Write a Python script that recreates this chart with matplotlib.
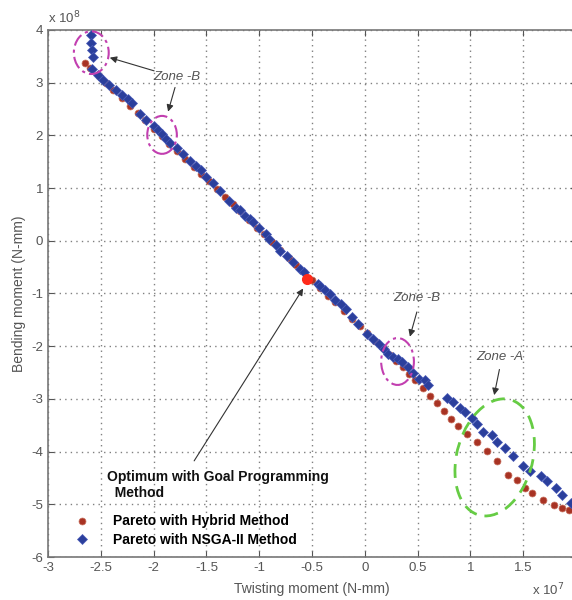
import matplotlib
matplotlib.use('Agg')
import matplotlib.pyplot as plt
from matplotlib.patches import Ellipse

plt.rcParams['font.family'] = ['Liberation Sans', 'DejaVu Sans']
plt.rcParams['axes.unicode_minus'] = False

# Pareto front with hybrid method (x in 1e7 N-mm, y in 1e8 N-mm)
hybrid_x = [-2.65, -2.6, -2.52, -2.45, -2.38, -2.3, -2.22, -2.15, -2.08, -2.0,
            -1.92, -1.85, -1.78, -1.7, -1.62, -1.55, -1.48, -1.4, -1.32, -1.25,
            -1.18, -1.1, -1.02, -0.95, -0.88, -0.8, -0.72, -0.65, -0.58, -0.5,
            -0.42, -0.35, -0.28, -0.2, -0.12, -0.05, 0.02, 0.1, 0.17, 0.24,
            0.3, 0.36, 0.42, 0.48, 0.55, 0.62, 0.68, 0.75, 0.82, 0.886,
            0.972, 1.066, 1.161, 1.256, 1.36, 1.445, 1.521, 1.588, 1.692, 1.787,
            1.872, 1.929]
hybrid_y = [3.38, 3.28, 3.13, 2.99, 2.86, 2.71, 2.55, 2.42, 2.29, 2.13,
            1.98, 1.84, 1.71, 1.56, 1.40, 1.27, 1.13, 0.98, 0.83, 0.69,
            0.56, 0.40, 0.25, 0.12, -0.02, -0.17, -0.32, -0.46, -0.59, -0.75,
            -0.90, -1.04, -1.17, -1.33, -1.48, -1.62, -1.75, -1.91, -2.04, -2.17,
            -2.29, -2.40, -2.52, -2.65, -2.80, -2.95, -3.08, -3.23, -3.38, -3.52,
            -3.66, -3.81, -3.98, -4.17, -4.45, -4.54, -4.69, -4.79, -4.92, -5.02,
            -5.07, -5.11]

# Pareto front with NSGA-II
nsga_x = [-2.59, -2.59, -2.58, -2.57, -2.58, -2.53, -2.48, -2.42, -2.36, -2.3,
          -2.24, -2.2, -2.13, -2.07, -2.0, -1.96, -1.92, -1.88, -1.84, -1.78,
          -1.72, -1.66, -1.6, -1.55, -1.5, -1.44, -1.37, -1.29, -1.22, -1.18,
          -1.13, -1.09, -1.06, -1.0, -0.94, -0.91, -0.84, -0.8, -0.74, -0.68,
          -0.61, -0.58, -0.44, -0.42, -0.38, -0.33, -0.28, -0.23, -0.18, -0.12,
          -0.06, 0.02, 0.08, 0.13, 0.18, 0.22, 0.27, 0.31, 0.35, 0.41,
          0.46, 0.51, 0.57, 0.6, 0.78, 0.839, 0.905, 0.953, 1.019, 1.066,
          1.123, 1.209, 1.256, 1.332, 1.408, 1.502, 1.569, 1.664, 1.73, 1.806,
          1.872, 1.948]
nsga_y = [3.91, 3.76, 3.62, 3.49, 3.26, 3.15, 3.06, 2.96, 2.86, 2.76,
          2.70, 2.62, 2.40, 2.30, 2.18, 2.10, 2.02, 1.94, 1.86, 1.76,
          1.64, 1.52, 1.42, 1.34, 1.22, 1.10, 0.94, 0.75, 0.62, 0.58,
          0.47, 0.41, 0.36, 0.24, 0.12, 0.03, -0.08, -0.20, -0.28, -0.40,
          -0.54, -0.60, -0.82, -0.86, -0.94, -1.01, -1.12, -1.20, -1.30, -1.44,
          -1.57, -1.77, -1.86, -1.95, -2.06, -2.14, -2.20, -2.24, -2.30, -2.39,
          -2.50, -2.62, -2.65, -2.74, -2.98, -3.05, -3.18, -3.24, -3.37, -3.47,
          -3.62, -3.69, -3.81, -3.94, -4.09, -4.28, -4.37, -4.47, -4.56, -4.70,
          -4.83, -4.98]

optimum_x = [-0.55]
optimum_y = [-0.73]

x_ticks = [-3, -2.5, -2, -1.5, -1, -0.5, 0, 0.5, 1, 1.5, 2]
x_ticklabels = ['-3', '-2.5', '-2', '-1.5', '-1', '-0.5', '0', '0.5', '1', '1.5', '']

fig = plt.figure(figsize=(5.72, 6.0), dpi=100)
ax = fig.add_axes([48 / 572, 43 / 600, 528 / 572, 527 / 600])

ax.plot(hybrid_x, hybrid_y, 'o', color='#a83324', markeredgecolor='#c8705e',
        markeredgewidth=0.5, markersize=5, label='Pareto with Hybrid Method', zorder=3)
ax.plot(nsga_x, nsga_y, 'D', color='#2b3f9c', markeredgecolor='#4a5cb8',
        markeredgewidth=0.5, markersize=5.5, label='Pareto with NSGA-II Method', zorder=4)
ax.plot(optimum_x, optimum_y, 'o', color='#ff2a1a', markersize=7, zorder=5)

ax.set_xlim(-3, 2)
ax.set_ylim(-6, 4)
ax.set_xticks(x_ticks)
ax.set_xticklabels(x_ticklabels)
ax.set_yticks(range(-6, 5))
ax.grid(True, linestyle=(0, (1, 3)), color='#808080', linewidth=1.0)
ax.tick_params(direction='in', length=4, labelsize=9.5, colors='#555555',
               top=True, right=True)
for s in ax.spines.values():
    s.set_color('#777777')
    s.set_linewidth(1.2)

ax.set_xlabel('Twisting moment (N-mm)', fontsize=10, color='#555555', labelpad=6)
ax.set_ylabel('Bending moment (N-mm)', fontsize=10, color='#555555', labelpad=4)

fig.text(48 / 572, 1 - 18 / 600, r'x 10$^8$', fontsize=9.5, color='#555555',
         ha='left', va='center')
fig.text(532 / 572, 1 - 590 / 600, r'x 10$^7$', fontsize=9.5, color='#555555',
         ha='left', va='center')

# zone ellipses
magenta = '#c23fb0'
for cx, cy, w, h in [(-2.59, 3.57, 0.33, 0.81), (-1.92, 2.01, 0.28, 0.72),
                     (0.31, -2.29, 0.31, 0.89)]:
    ax.add_patch(Ellipse((cx, cy), w, h, fill=False, edgecolor=magenta,
                         linewidth=1.5, linestyle=(0, (6, 2, 1.5, 2)), zorder=6))
ax.add_patch(Ellipse((1.23, -4.11), 0.73, 2.23, angle=-5, fill=False,
                     edgecolor='#66cc44', linewidth=2, linestyle=(0, (5, 3)), zorder=6))

arrow = dict(arrowstyle='-|>', color='#333333', lw=0.8, mutation_scale=10)
zone_kw = dict(fontsize=9.5, style='italic', color='#555555', ha='center', va='center')
ax.text(-1.78, 3.11, 'Zone -B', **zone_kw)
ax.annotate('', xy=(-2.44, 3.49), xytext=(-1.97, 3.21), arrowprops=arrow)
ax.annotate('', xy=(-1.87, 2.40), xytext=(-1.79, 2.96), arrowprops=arrow)
ax.text(0.49, -1.09, 'Zone -B', **zone_kw)
ax.annotate('', xy=(0.42, -1.87), xytext=(0.50, -1.30), arrowprops=arrow)
ax.text(1.28, -2.20, 'Zone -A', **zone_kw)
ax.annotate('', xy=(1.22, -2.98), xytext=(1.28, -2.39), arrowprops=arrow)

ax.annotate('', xy=(-0.57, -0.86), xytext=(-1.63, -4.22), arrowprops=arrow)
ax.text(-2.44, -4.34, 'Optimum with Goal Programming\n  Method', fontsize=10,
        fontweight='bold', color='#111111', ha='left', va='top', zorder=7)

leg = ax.legend(loc='lower left', bbox_to_anchor=(0.02, 0.0), frameon=False,
                prop={'size': 10, 'weight': 'bold'}, labelspacing=0.35,
                handletextpad=1.2, borderaxespad=0.3)

fig.savefig('out.png', dpi=100)
